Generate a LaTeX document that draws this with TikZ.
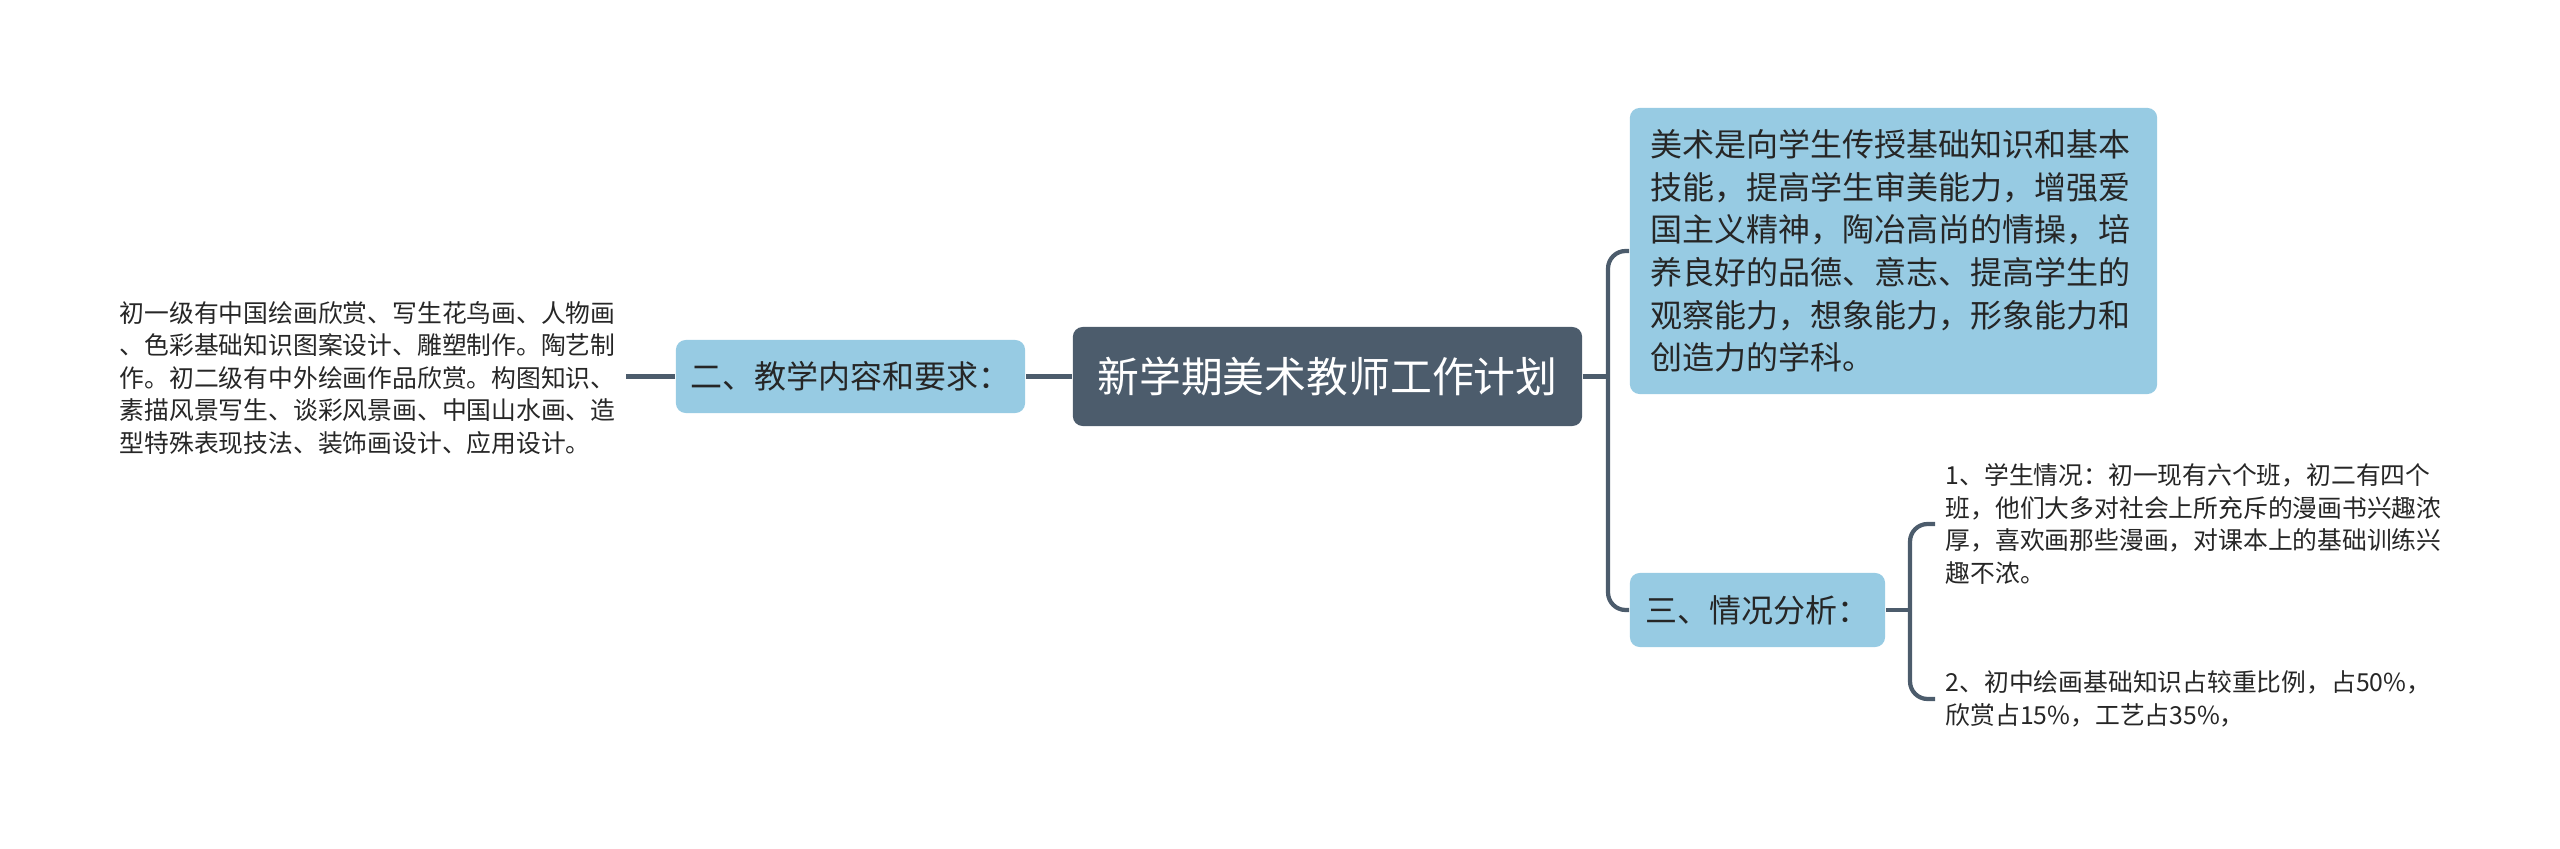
\documentclass[tikz,border=0pt]{standalone}
\usepackage{fontspec}
\setmainfont{Noto Sans CJK SC}
\usetikzlibrary{positioning,calc}

\definecolor{rootfill}{HTML}{4C5C6C}
\definecolor{branchfill}{HTML}{97CBE3}
\definecolor{linkcol}{HTML}{4C5C6C}

\tikzset{
  rootbox/.style={fill=rootfill, text=white, rounded corners=2.8pt,
    minimum width=5.09cm, minimum height=0.99cm, inner sep=0pt,
    font=\fontsize{11.9}{14}\selectfont},
  branchbox/.style={fill=branchfill, text=black!85, rounded corners=2.8pt,
    inner sep=0pt, font=\fontsize{9.1}{12.1}\selectfont},
  leaftext/.style={align=left, text=black!85, inner xsep=0.1cm, inner ysep=0.05cm,
    font=\fontsize{7.05}{9.25}\selectfont},
  link/.style={draw=linkcol, line width=1.2pt, rounded corners=5pt},
}

\begin{document}
\begin{tikzpicture}[x=0.01cm, y=-0.01cm]

\useasboundingbox (0,0) rectangle (2560,849);

% Central topic
\node[rootbox] (root) at (1327.5,376.5) {新学期美术教师工作计划};

% Main branches
\node[branchbox, minimum width=3.49cm, minimum height=0.73cm] (content) at (850.5,376.5) {二、教学内容和要求：};
\node[branchbox, align=left, text width=4.85cm, inner xsep=0.21cm, minimum height=2.86cm] (intro) at (1893.5,251) {美术是向学生传授基础知识和基本\\技能，提高学生审美能力，增强爱\\国主义精神，陶冶高尚的情操，培\\养良好的品德、意志、提高学生的\\观察能力，想象能力，形象能力和\\创造力的学科。};
\node[branchbox, minimum width=2.55cm, minimum height=0.74cm] (analysis) at (1757.5,610) {三、情况分析：};

% Leaf texts
\node[leaftext, anchor=west] (course) at (109,378) {初一级有中国绘画欣赏、写生花鸟画、人物画\\、色彩基础知识图案设计、雕塑制作。陶艺制\\作。初二级有中外绘画作品欣赏。构图知识、\\素描风景写生、谈彩风景画、中国山水画、造\\型特殊表现技法、装饰画设计、应用设计。};
\node[leaftext, anchor=west] (pupils) at (1935,524) {1、学生情况：初一现有六个班，初二有四个\\班，他们大多对社会上所充斥的漫画书兴趣浓\\厚，喜欢画那些漫画，对课本上的基础训练兴\\趣不浓。};
\node[leaftext, anchor=west] (share) at (1935,699) {2、初中绘画基础知识占较重比例，占50\%，\\欣赏占15\%，工艺占35\%，};

% Left side links
\draw[link] (root.west) -- (content.east);
\draw[link] (content.west) -- (content.west -| course.east);

% Right side trunk
\coordinate (trunk) at (1608,376.5);
\draw[link] (root.east) -- (trunk);
\draw[link] (intro.west) -| (trunk) |- (analysis.west);

% Bracket to the analysis leaves
\coordinate (brace) at (1910,610);
\draw[link] (analysis.east) -- (brace);
\draw[link] (pupils.west) -| (brace) |- (share.west);

\end{tikzpicture}
\end{document}
